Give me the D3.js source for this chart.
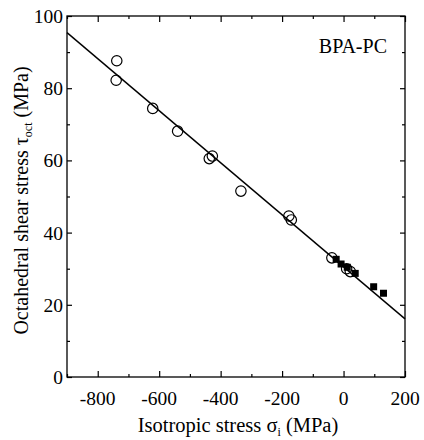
<!DOCTYPE html>
<html>
<head>
<meta charset="utf-8">
<script src="https://cdn.jsdelivr.net/npm/d3@7"></script>
<style>
  body { margin: 0; background: #fff; }
  text { font-family: "Liberation Serif", "Times New Roman", serif; fill: #000; }
</style>
</head>
<body>
<div id="chart"></div>
<script>
// open circles (isotropic stress, octahedral shear stress)
var openX = [-738, -740, -621, -540, -427, -437, -334, -178, -170, -38, 10, 22];
var openY = [87.6, 82.2, 74.4, 68.1, 61.2, 60.5, 51.5, 44.6, 43.5, 33.0, 30.0, 29.2];
// filled squares
var fillX = [-24, -8, 12, 38, 98, 130];
var fillY = [32.6, 31.3, 30.4, 28.7, 25.0, 23.2];
// fitted line end points
var lineX = [-900, 200];
var lineY = [95.4, 16.1];
var xTicks = [-800, -600, -400, -200, 0, 200];
var yTicks = [0, 20, 40, 60, 80, 100];

var width = 424, height = 440;
var margin = {top: 16, right: 19, bottom: 63, left: 67};
var w = width - margin.left - margin.right;
var h = height - margin.top - margin.bottom;

var svg = d3.select("#chart").append("svg")
  .attr("width", width)
  .attr("height", height);
var g = svg.append("g")
  .attr("transform", `translate(${margin.left},${margin.top})`);

var x = d3.scaleLinear().domain([-900, 200]).range([0, w]);
var y = d3.scaleLinear().domain([0, 100]).range([h, 0]);

// ticks, inward on all four sides: major + minor
var xMinor = d3.range(-900, 201, 100).filter(v => xTicks.indexOf(v) < 0);
var yMinor = d3.range(10, 100, 20);

function tickAxis(axisFn, scale, vals, len, tr) {
  g.append("g")
    .attr("transform", tr)
    .call(axisFn(scale).tickValues(vals).tickSize(-len).tickFormat(""))
    .call(a => a.select(".domain").remove())
    .call(a => a.selectAll("line").attr("stroke", "#000").attr("stroke-width", 1.2));
}
tickAxis(d3.axisBottom, x, xTicks, 6, `translate(0,${h})`);
tickAxis(d3.axisBottom, x, xMinor, 3, `translate(0,${h})`);
tickAxis(d3.axisTop, x, xTicks, 6, "translate(0,0)");
tickAxis(d3.axisTop, x, xMinor, 3, "translate(0,0)");
tickAxis(d3.axisLeft, y, yTicks, 5, "translate(0,0)");
tickAxis(d3.axisLeft, y, yMinor, 3, "translate(0,0)");
tickAxis(d3.axisRight, y, yTicks, 5, `translate(${w},0)`);
tickAxis(d3.axisRight, y, yMinor, 3, `translate(${w},0)`);

// frame
g.append("rect")
  .attr("width", w).attr("height", h)
  .attr("fill", "none").attr("stroke", "#000").attr("stroke-width", 1.3);

// tick labels
g.selectAll(".xl").data(xTicks).enter().append("text")
  .attr("x", d => x(d)).attr("y", h + 28)
  .attr("text-anchor", "middle").attr("font-size", 19.5)
  .text(d => d);
g.selectAll(".yl").data(yTicks).enter().append("text")
  .attr("x", -4).attr("y", d => y(d) + 7)
  .attr("text-anchor", "end").attr("font-size", 19.5)
  .text(d => d);

// fitted line
g.append("line")
  .attr("x1", x(lineX[0])).attr("y1", y(lineY[0]))
  .attr("x2", x(lineX[1])).attr("y2", y(lineY[1]))
  .attr("stroke", "#000").attr("stroke-width", 1.4);

// open circles
g.selectAll(".op").data(openX).enter().append("circle")
  .attr("cx", d => x(d)).attr("cy", (d, i) => y(openY[i]))
  .attr("r", 5.2)
  .attr("fill", "none").attr("stroke", "#000").attr("stroke-width", 1.2);

// filled squares
var s = 7;
g.selectAll(".sq").data(fillX).enter().append("rect")
  .attr("x", d => x(d) - s / 2).attr("y", (d, i) => y(fillY[i]) - s / 2)
  .attr("width", s).attr("height", s)
  .attr("fill", "#000");

// label
g.append("text")
  .attr("x", w - 18).attr("y", 37)
  .attr("text-anchor", "end").attr("font-size", 20)
  .text("BPA-PC");

// axis titles
var xt = svg.append("text")
  .attr("x", 238).attr("y", height - 8)
  .attr("text-anchor", "middle").attr("font-size", 20.5);
xt.append("tspan").text("Isotropic stress σ");
xt.append("tspan").attr("font-size", 12).attr("dy", 4).text("i");
xt.append("tspan").attr("dy", -4).text(" (MPa)");

var yt = svg.append("text")
  .attr("transform", `translate(28,${margin.top + h / 2 + 4}) rotate(-90)`)
  .attr("text-anchor", "middle").attr("font-size", 20);
yt.append("tspan").text("Octahedral shear stress τ");
yt.append("tspan").attr("font-size", 12).attr("dy", 4).text("oct");
yt.append("tspan").attr("dy", -4).text(" (MPa)");
</script>
</body>
</html>
